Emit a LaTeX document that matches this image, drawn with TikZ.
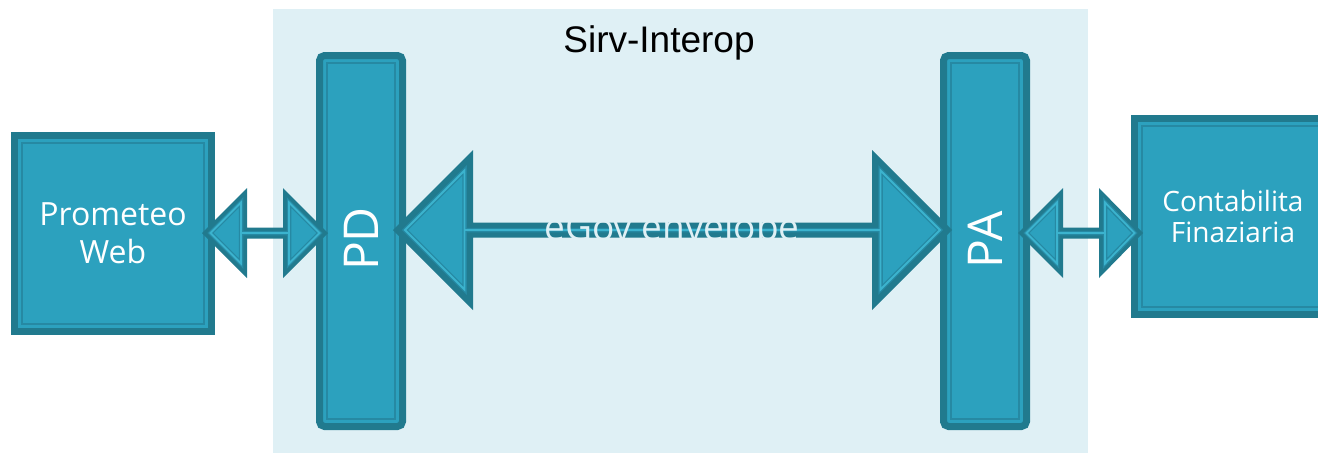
\documentclass[tikz,border=0pt]{standalone}
\usepackage{fontspec}
\setmainfont{Open Sans}
\newfontfamily\titlefont{Liberation Sans}
\usetikzlibrary{calc}
\definecolor{dk}{HTML}{217A8E}
\definecolor{md}{HTML}{2CA1BE}
\definecolor{ln}{HTML}{2689A3}
\definecolor{lt}{HTML}{3BB3CE}
\definecolor{bgc}{HTML}{DFF0F5}
\tikzset{
  blk/.style={draw=dk, fill=md, line width=7pt, inner sep=0pt, outer sep=0pt, text=white},
  bar/.style={blk, rounded corners=5pt},
  inln/.style={draw=ln, line width=1.6pt},
  arrout/.style={fill=dk, draw=none},
  arrin/.style={fill=md, draw=ln, line width=4.5pt, line join=miter,
    postaction={draw=lt, line width=1.8pt}},
}
\begin{document}
\begin{tikzpicture}[x=1pt,y=-1pt]
\useasboundingbox (0,0) rectangle (1318,453);
\clip (0,0) rectangle (1318,453);
% background region
\node[fill=bgc, inner sep=0pt, minimum width=815pt, minimum height=444pt, anchor=north west] (bg) at (273,9) {};
\node[font=\titlefont\fontsize{37}{40}\selectfont, anchor=base] (title) at (659,52) {Sirv-Interop};
% boxes
\node[blk, minimum width=197pt, minimum height=196pt, align=center,
      font=\fontsize{32}{38}\selectfont] (pw) at (113,233.5) {Prometeo\\Web};
\draw[inln] ($(pw.north west)+(7.5,7.5)$) rectangle ($(pw.south east)+(-7.5,-7.5)$);
\node[blk, minimum width=197pt, minimum height=196pt, align=center,
      font=\fontsize{28}{31}\selectfont] (cf) at (1233,216.5) {Contabilita\\Finaziaria};
\draw[inln] ($(cf.north west)+(7.5,7.5)$) rectangle ($(cf.south east)+(-7.5,-7.5)$);
\node[bar, minimum width=83pt, minimum height=371pt] (pd) at (361,241) {};
\draw[inln] ($(pd.north west)+(7.5,7.5)$) rectangle ($(pd.south east)+(-7.5,-7.5)$);
\node[bar, minimum width=83pt, minimum height=371pt] (pa) at (985,241) {};
\draw[inln] ($(pa.north west)+(7.5,7.5)$) rectangle ($(pa.south east)+(-7.5,-7.5)$);
\node[rotate=90, text=white, inner sep=0pt, font=\fontsize{48}{50}\selectfont] (pdl) at (361,239) {PD};
\node[rotate=90, text=white, inner sep=0pt, font=\fontsize{48}{50}\selectfont] (pal) at (985,240) {PA};
% arrow Prometeo <-> PD
\fill[arrout] (202,233) -- (247,188) -- (247,227.5) -- (283,227.5) -- (283,188) -- (328,233)
  -- (283,278) -- (283,238.5) -- (247,238.5) -- (247,278) -- cycle;
\filldraw[arrin] (210.5,233) -- (241,202.5) -- (241,233) -- (289,233) -- (289,202.5) -- (319.5,233)
  -- (289,263.5) -- (289,233) -- (241,233) -- (241,263.5) -- cycle;
% arrow PA <-> Contabilita
\fill[arrout] (1018,233) -- (1063,188) -- (1063,227.5) -- (1099,227.5) -- (1099,188) -- (1143,233)
  -- (1099,278) -- (1099,238.5) -- (1063,238.5) -- (1063,278) -- cycle;
\filldraw[arrin] (1026.5,233) -- (1057,202.5) -- (1057,233) -- (1105,233) -- (1105,202.5) -- (1134.5,233)
  -- (1105,263.5) -- (1105,233) -- (1057,233) -- (1057,263.5) -- cycle;
% big arrow PD <-> PA
\fill[arrout] (393,230) -- (473,150) -- (473,222.5) -- (872,222.5) -- (872,150) -- (952,230)
  -- (872,310) -- (872,237.5) -- (473,237.5) -- (473,310) -- cycle;
\filldraw[arrin] (405,230) -- (464.5,170.5) -- (464.5,230) -- (880.5,230) -- (880.5,170.5) -- (940,230)
  -- (880.5,289.5) -- (880.5,230) -- (464.5,230) -- (464.5,289.5) -- cycle;
\node[text=bgc, inner sep=0pt, anchor=base, font=\fontsize{37}{40}\selectfont] (env) at (672,240) {eGov envelope};
\end{tikzpicture}
\end{document}
